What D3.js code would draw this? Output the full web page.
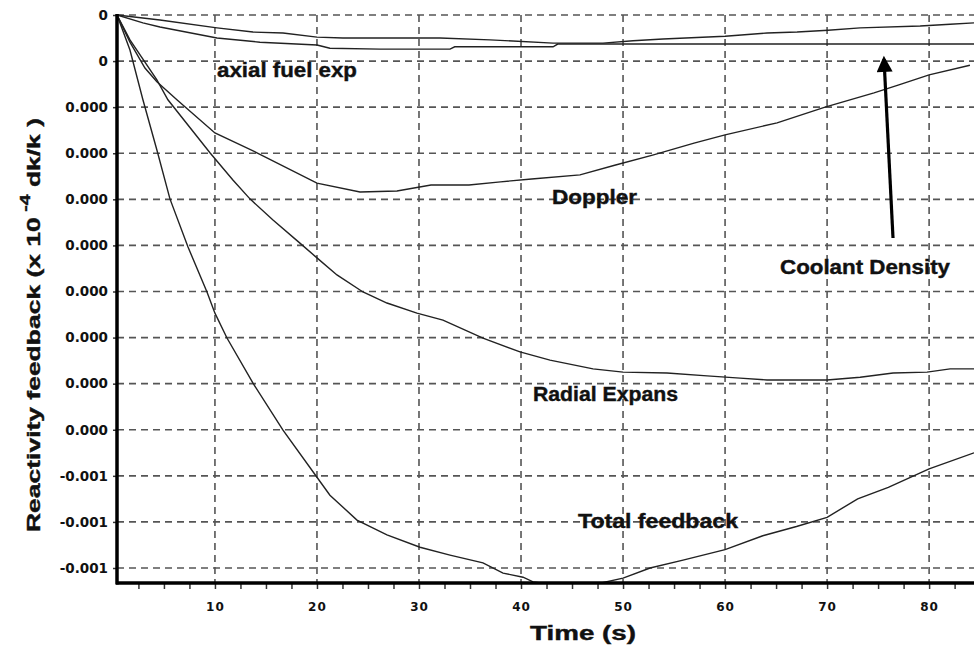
<!DOCTYPE html>
<html>
<head>
<meta charset="utf-8">
<script src="https://cdn.jsdelivr.net/npm/d3@7"></script>
<style>
  body { margin: 0; background: #fff; }
  svg text { font-family: "Liberation Sans", Arial, sans-serif; font-weight: bold; fill: #111; }
</style>
</head>
<body>
<div id="chart"></div>
<script>
// time (s), reactivity (x 1e-4 dk/k)
var totalFeedback = [
  [0.4, 0], [1.67, -0.76], [2.94, -1.84], [4.31, -2.93], [5.59, -3.99], [7.35, -5.03],
  [9.22, -6.01], [10, -6.47], [11.18, -7.01], [13.73, -7.99], [16.67, -9.01], [20, -10.03],
  [21.27, -10.42], [23.92, -10.96], [26.86, -11.28], [30.1, -11.55], [33.04, -11.72],
  [36.27, -11.89], [38.24, -12.11], [40.2, -12.2], [41.18, -12.3], [43.8, -12.38],
  [46.8, -12.38], [47.75, -12.33], [50, -12.22], [52.65, -12.0], [55.88, -11.83],
  [60, -11.6], [63.7, -11.3], [67, -11.1], [70, -10.9], [73, -10.5], [76, -10.25],
  [80, -9.85], [84.4, -9.5]
];
var radialExp = [
  [0.4, 0], [1.67, -0.54], [4.31, -1.41], [5.39, -1.84], [9.51, -2.99], [11.76, -3.58],
  [13.43, -3.99], [15.69, -4.45], [18.33, -4.95], [20, -5.27], [21.96, -5.64], [24.51, -6.01],
  [26.86, -6.25], [29.8, -6.47], [32.35, -6.62], [36.27, -7.01], [39.9, -7.31], [42.84, -7.49],
  [47.06, -7.68], [50, -7.75], [54.31, -7.77], [58.24, -7.83], [61.47, -7.88], [64.12, -7.92],
  [70, -7.92], [73.24, -7.86], [76.47, -7.77], [79.8, -7.75], [82.06, -7.68], [84.4, -7.68]
];
var doppler = [
  [0.4, 0], [1.67, -0.59], [3.14, -1.15], [4.31, -1.45], [6.27, -1.84], [10, -2.56],
  [14.12, -2.99], [20, -3.65], [24.22, -3.84], [27.84, -3.82], [31.18, -3.69], [34.9, -3.69],
  [37.99, -3.62], [41.04, -3.56], [45.78, -3.47], [49.18, -3.26], [52.9, -3.04], [56.96, -2.78],
  [60, -2.6], [65.1, -2.34], [69.8, -2.0], [74.6, -1.69], [76.96, -1.52], [80, -1.3], [84.0, -1.09]
];
var axialFuel = [
  [0.4, 0], [4.61, -0.11], [10.2, -0.28], [13.73, -0.37], [16.67, -0.39], [20, -0.48],
  [22.55, -0.5], [32.06, -0.5], [36.96, -0.54], [43.14, -0.61], [48.04, -0.61], [50.98, -0.56],
  [53.92, -0.52], [60, -0.46], [64.12, -0.39], [67.06, -0.37], [70.1, -0.33], [73.24, -0.28],
  [79.12, -0.24], [82.06, -0.2], [84.4, -0.17]
];
var coolantDensity = [
  [0.4, 0], [2.94, -0.17], [4.61, -0.26], [10.2, -0.5], [14.41, -0.59], [20, -0.65],
  [21.27, -0.72], [26.18, -0.74], [33.04, -0.74], [33.5, -0.69], [43.14, -0.69], [43.6, -0.63],
  [84.4, -0.63]
];

var yTickValues = [0, -1, -2, -3, -4, -5, -6, -7, -8, -9, -10, -11, -12];
var yTickLabels = ["0", "0", "0.000", "0.000", "0.000", "0.000", "0.000", "0.000", "0.000", "0.000", "-0.001", "-0.001", "-0.001"];
var xTickValues = [10, 20, 30, 40, 50, 60, 70, 80];

var width = 974, height = 652;

var svg = d3.select("#chart").append("svg")
  .attr("width", width)
  .attr("height", height);

var xScale = d3.scaleLinear().domain([0.4, 84.4]).range([117, 974]);
var yScale = d3.scaleLinear().domain([0, -12]).range([15, 568]);
var yBottom = 583;

// grid
var grid = svg.append("g").attr("class", "grid");
grid.selectAll("line.h")
  .data(yTickValues)
  .enter().append("line")
  .attr("class", "h")
  .attr("x1", 117).attr("x2", 974)
  .attr("y1", function(d) { return yScale(d); })
  .attr("y2", function(d) { return yScale(d); })
  .attr("stroke", "#555")
  .attr("stroke-width", 1.6)
  .attr("stroke-dasharray", "7,5");

grid.selectAll("line.v")
  .data(xTickValues)
  .enter().append("line")
  .attr("class", "v")
  .attr("x1", function(d) { return xScale(d); })
  .attr("x2", function(d) { return xScale(d); })
  .attr("y1", 15).attr("y2", yBottom)
  .attr("stroke", "#555")
  .attr("stroke-width", 1.6)
  .attr("stroke-dasharray", "7,5");

// curves
svg.append("clipPath").attr("id", "plotClip")
  .append("rect").attr("x", 117).attr("y", 10).attr("width", 857).attr("height", yBottom - 10);

var line = d3.line()
  .x(function(d) { return xScale(d[0]); })
  .y(function(d) { return yScale(d[1]); });

var series = [totalFeedback, radialExp, doppler, axialFuel, coolantDensity];

svg.append("g")
  .attr("clip-path", "url(#plotClip)")
  .selectAll("path")
  .data(series)
  .enter().append("path")
  .attr("d", line)
  .attr("fill", "none")
  .attr("stroke", "#222")
  .attr("stroke-width", 1.4);

// axes
var xAxis = d3.axisBottom(xScale)
  .tickValues(d3.range(2.5, 84.4, 2.5))
  .tickSize(6)
  .tickFormat(function(d) { return d % 10 === 0 ? d : ""; });

var gx = svg.append("g")
  .attr("transform", "translate(0," + yBottom + ")")
  .call(xAxis);
gx.select(".domain").remove();
gx.selectAll(".tick line").attr("stroke", "#333").attr("stroke-width", 1.5);
gx.selectAll(".tick text")
  .attr("y", 19)
  .attr("fill", "#111")
  .style("font-family", "'DejaVu Sans', sans-serif")
  .style("font-size", "12px")
  .style("letter-spacing", "1px");

var yAxis = d3.axisLeft(yScale)
  .tickValues(yTickValues)
  .tickSize(4)
  .tickFormat(function(d, i) { return yTickLabels[i]; });

var gy = svg.append("g")
  .attr("transform", "translate(117,0)")
  .call(yAxis);
gy.select(".domain").remove();
gy.selectAll(".tick line").attr("stroke", "#333").attr("stroke-width", 1.5);
gy.selectAll(".tick text")
  .attr("x", -9)
  .attr("fill", "#111")
  .style("font-family", "'DejaVu Sans', sans-serif")
  .style("font-size", "13.5px");

svg.append("line")
  .attr("x1", 117).attr("x2", 117).attr("y1", 14).attr("y2", yBottom + 1.5)
  .attr("stroke", "#000").attr("stroke-width", 3.5);
svg.append("line")
  .attr("x1", 116).attr("x2", 974).attr("y1", yBottom).attr("y2", yBottom)
  .attr("stroke", "#000").attr("stroke-width", 3.5);

// curve labels
var labels = [
  { text: "axial fuel exp", x: 217, y: 77, w: 140 },
  { text: "Doppler", x: 552, y: 204, w: 85 },
  { text: "Coolant Density", x: 780, y: 274, w: 170 },
  { text: "Radial Expans", x: 533, y: 401, w: 145 },
  { text: "Total feedback", x: 578, y: 528, w: 160 }
];
svg.append("g").selectAll("text")
  .data(labels)
  .enter().append("text")
  .attr("x", function(d) { return d.x; })
  .attr("y", function(d) { return d.y; })
  .attr("textLength", function(d) { return d.w; })
  .attr("lengthAdjust", "spacingAndGlyphs")
  .style("font-size", "19.5px")
  .style("stroke", "#111")
  .style("stroke-width", 0.4)
  .text(function(d) { return d.text; });

// arrow to coolant density
svg.append("defs").append("marker")
  .attr("id", "arrowHead")
  .attr("viewBox", "0 0 10 10")
  .attr("refX", 8).attr("refY", 5)
  .attr("markerWidth", 5.5).attr("markerHeight", 5)
  .attr("markerUnits", "strokeWidth")
  .attr("orient", "auto")
  .append("path")
  .attr("d", "M0,0 L10,5 L0,10 z")
  .attr("fill", "#000");

svg.append("line")
  .attr("x1", 893).attr("y1", 238)
  .attr("x2", 884).attr("y2", 59)
  .attr("stroke", "#000")
  .attr("stroke-width", 3.2)
  .attr("marker-end", "url(#arrowHead)");

// axis titles
svg.append("text")
  .attr("x", 530).attr("y", 640)
  .attr("textLength", 106)
  .attr("lengthAdjust", "spacingAndGlyphs")
  .style("font-size", "19.5px")
  .style("stroke", "#111")
  .style("stroke-width", 0.4)
  .text("Time (s)");

var yTitle = svg.append("text")
  .attr("transform", "translate(40,532) rotate(-90)")
  .attr("textLength", 414)
  .attr("lengthAdjust", "spacingAndGlyphs")
  .style("font-size", "19px")
  .style("stroke", "#111")
  .style("stroke-width", 0.4);
yTitle.append("tspan").text("Reactivity feedback (x 10");
yTitle.append("tspan").attr("dy", -10).style("font-size", "14px").text(" -4");
yTitle.append("tspan").attr("dy", 10).text(" dk/k )");
</script>
</body>
</html>
